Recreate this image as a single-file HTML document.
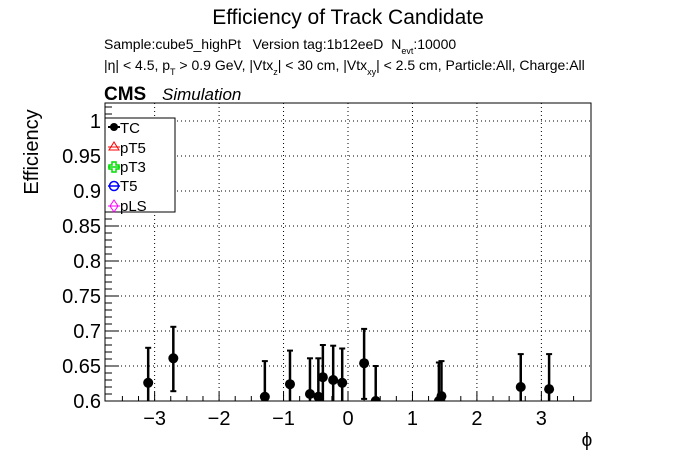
<!DOCTYPE html>
<html><head><meta charset="utf-8"><style>
body{margin:0;background:#fff;}
svg{display:block;font-family:"Liberation Sans",sans-serif;}
</style></head><body>
<svg id="chart" width="696" height="472" viewBox="0 0 696 472">
<rect width="696" height="472" fill="#fff"/>
<text x="348" y="24" font-size="21" text-anchor="middle">Efficiency of Track Candidate</text>
<text x="104" y="49" font-size="14" xml:space="preserve" style="white-space:pre">Sample:cube5_highPt   Version tag:1b12eeD  N<tspan font-size="9" dy="5">evt</tspan><tspan dy="-5">:10000</tspan></text>
<text x="104" y="70" font-size="14">|η| &lt; 4.5, p<tspan font-size="9" dy="5">T</tspan><tspan dy="-5"> &gt; 0.9 GeV, |Vtx</tspan><tspan font-size="9" dy="5">z</tspan><tspan dy="-5">| &lt; 30 cm, |Vtx</tspan><tspan font-size="9" dy="5">xy</tspan><tspan dy="-5">| &lt; 2.5 cm, Particle:All, Charge:All</tspan></text>
<text x="104" y="100" font-size="19" font-weight="bold">CMS</text>
<text x="162" y="100" font-size="17" font-style="italic">Simulation</text>
<text transform="translate(38,152) rotate(-90)" font-size="20" text-anchor="middle">Efficiency</text>
<text x="587" y="446" font-size="19" text-anchor="middle">ϕ</text>
<defs><clipPath id="cp"><rect x="105" y="103" width="486" height="298"/></clipPath></defs>
<g id="grid"></g><g id="axes"></g><g id="marks" clip-path="url(#cp)"></g>
<rect x="105" y="103" width="486" height="298" fill="none" stroke="#000" stroke-width="1"/>
<g>
<rect x="105" y="118" width="70" height="94" fill="#fff" stroke="#000"/>
<g><circle cx="114" cy="127" r="4" fill="#000"/><line x1="108" y1="127" x2="120" y2="127" stroke="#000" stroke-width="2"/><text x="120" y="133" font-size="15">TC</text></g>
<g><path d="M109 150 L114 142 L119 150 Z" fill="none" stroke="#f00"/><line x1="108" y1="147" x2="120" y2="147" stroke="#f00"/><text x="120" y="153" font-size="15">pT5</text></g>
<g><path d="M112 162h4v3h3v4h-3v3h-4v-3h-3v-4h3z" fill="none" stroke="#0d0" stroke-width="1.5"/><line x1="108" y1="167" x2="120" y2="167" stroke="#0d0" stroke-width="1.5"/><text x="120" y="172" font-size="15">pT3</text></g>
<g><circle cx="114" cy="186" r="4.5" fill="none" stroke="#00f" stroke-width="1.5"/><line x1="108" y1="186" x2="120" y2="186" stroke="#00f" stroke-width="1.5"/><text x="120" y="191" font-size="15">T5</text></g>
<g><path d="M114 200 L118 206 L114 212 L110 206 Z" fill="none" stroke="#f0f"/><line x1="108" y1="206" x2="120" y2="206" stroke="#f0f"/><text x="120" y="211" font-size="15">pLS</text></g>
</g>
</svg>
<script>
const phiValues=[-3.10,-2.71,-1.29,-0.90,-0.59,-0.46,-0.39,-0.23,-0.09,0.25,0.43,1.41,1.45,2.68,3.12];
const effValues=[0.626,0.661,0.606,0.624,0.610,0.606,0.634,0.630,0.626,0.654,0.600,0.600,0.607,0.620,0.617];
const errUp=[0.050,0.045,0.051,0.048,0.051,0.055,0.046,0.049,0.049,0.049,0.050,0.055,0.050,0.047,0.050];
const errLow=[0.045,0.047,0.045,0.045,0.046,0.046,0.046,0.046,0.046,0.051,0.046,0.046,0.046,0.046,0.046];
const xTicks=[-3,-2,-1,0,1,2,3];
const yTicks=[0.6,0.65,0.7,0.75,0.8,0.85,0.9,0.95,1];
const X0=105,X1=591,Y0=103,Y1=401,xmin=-3.77,xmax=3.77,ymin=0.6,ymax=1.0257;
const sx=v=>X0+(v-xmin)/(xmax-xmin)*(X1-X0);
const sy=v=>Y1-(v-ymin)/(ymax-ymin)*(Y1-Y0);
const NS="http://www.w3.org/2000/svg";
function mk(t,a,p){const e=document.createElementNS(NS,t);for(const k in a)e.setAttribute(k,a[k]);p.appendChild(e);return e;}
const grid=document.getElementById('grid'),axes=document.getElementById('axes'),marks=document.getElementById('marks');
xTicks.forEach(t=>{const x=sx(t);
const g=mk('line',{x1:x,x2:x,y1:Y0,y2:Y1,stroke:'#000','stroke-dasharray':'1,3','stroke-width':1},grid);


mk('line',{x1:x,x2:x,y1:Y1,y2:Y1-9,stroke:'#000'},axes);
const l=mk('text',{x:x,y:Y1+24,'font-size':20,'text-anchor':'middle'},axes);l.textContent=t<0?'\u2212'+(-t):String(t);

});
for(let v=-3.5;v<=3.6;v+=0.25){if(Math.abs(v-Math.round(v))<1e-6)continue;const x=sx(v);mk('line',{x1:x,x2:x,y1:Y1,y2:Y1-5,stroke:'#000'},axes);}
yTicks.forEach(t=>{const y=sy(t);
if(t>0.6){const g=mk('line',{x1:X0,x2:X1,y1:y,y2:y,stroke:'#000','stroke-dasharray':'1,3'},grid);

}
mk('line',{x1:X0,x2:X0+14,y1:y,y2:y,stroke:'#000'},axes);
const l=mk('text',{x:X0-4,y:y+7,'font-size':20,'text-anchor':'end'},axes);l.textContent=String(t);

});
for(let v=0.61;v<1.025;v+=0.01){const y=sy(v);mk('line',{x1:X0,x2:X0+7,y1:y,y2:y,stroke:'#000'},axes);}
phiValues.forEach((p,i)=>{const x=sx(p),y=sy(effValues[i]),yt=sy(effValues[i]+errUp[i]),yb=sy(effValues[i]-errLow[i]);
const g=mk('g',{},marks);


mk('line',{x1:x,x2:x,y1:yt,y2:yb,stroke:'#000','stroke-width':2.5},g);
mk('line',{x1:x-3,x2:x+3,y1:yt,y2:yt,stroke:'#000','stroke-width':2},g);
mk('line',{x1:x-3,x2:x+3,y1:yb,y2:yb,stroke:'#000','stroke-width':2},g);
mk('circle',{cx:x,cy:y,r:5,fill:'#000'},g);});
</script>
</body></html>
